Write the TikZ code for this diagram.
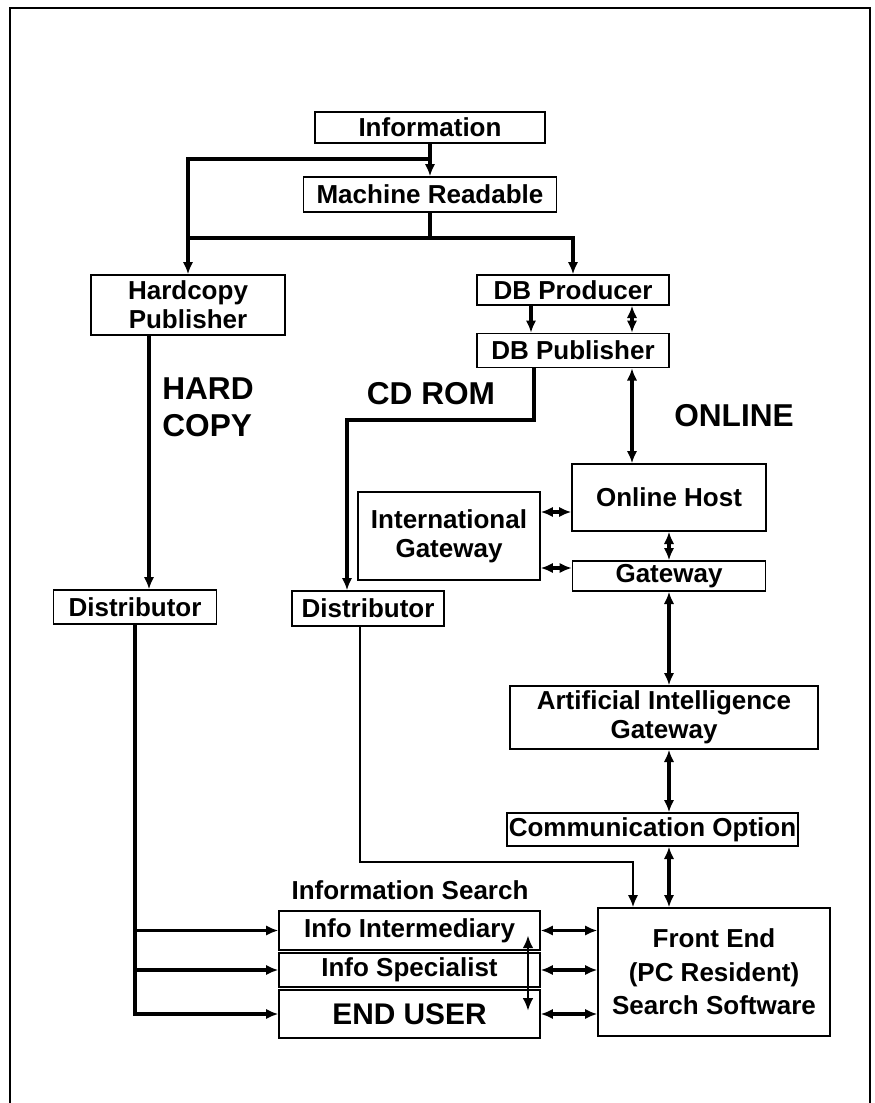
\documentclass[tikz,border=0pt]{standalone}
\usepackage{fontspec}
\setmainfont{Liberation Sans}
\usetikzlibrary{arrows.meta, calc}

\begin{document}
\begin{tikzpicture}[
  x=0.02cm, y=-0.02cm,
  box/.style={draw, line width=0.8pt, inner sep=0pt, align=center,
  font=\fontsize{14.8}{16.5}\selectfont\bfseries},
  biglbl/.style={inner sep=0pt, align=left, font=\fontsize{18}{21}\selectfont\bfseries},
  conn/.style={line width=2pt},
  arr/.style={conn, -{Latex[length=7pt, width=6pt]}},
  darr/.style={conn, {Latex[length=7pt, width=6pt]}-{Latex[length=7pt, width=6pt]}}
]
\useasboundingbox (0,0) rectangle (875,1103);
\draw[line width=0.8pt] (10,1103) -- (10,8) -- (870,8) -- (870,1103);

\node[box, minimum width=4.6cm,  minimum height=0.62cm] (info)   at (430,127.5) {Information};
\node[box, minimum width=5.06cm, minimum height=0.7cm]  (mread)  at (430,194.5) {Machine Readable};
\node[box, minimum width=3.88cm, minimum height=1.2cm]  (hcpub)  at (188,305)   {Hardcopy\\Publisher};
\node[box, minimum width=3.84cm, minimum height=0.6cm]  (dbprod) at (573,290)   {DB Producer};
\node[box, minimum width=3.84cm, minimum height=0.68cm] (dbpub)  at (573,350.5) {DB Publisher};
\node[box, minimum width=3.88cm, minimum height=1.34cm] (host)   at (669,497.5) {Online Host};
\node[box, minimum width=3.64cm, minimum height=1.76cm] (intgw)  at (449,536)   {International\\Gateway};
\node[box, minimum width=3.86cm, minimum height=0.6cm]  (gw)     at (669,576)   {Gateway};
\node[box, minimum width=3.26cm, minimum height=0.68cm] (dist1)  at (135,607)   {Distributor};
\node[box, minimum width=3.04cm, minimum height=0.7cm]  (dist2)  at (368,608.5) {Distributor};
\node[box, minimum width=6.16cm, minimum height=1.26cm] (aigw)   at (664,717.5) {Artificial Intelligence\\Gateway};
\node[box, minimum width=5.82cm, minimum height=0.66cm] (comm)   at (652.5,829.5) {Communication Option};
\node[box, minimum width=4.64cm, minimum height=2.56cm, font=\fontsize{14.8}{19}\selectfont\bfseries] (front) at (714,972) {Front End\\(PC Resident)\\Search Software};
\node[box, minimum width=5.22cm, minimum height=0.78cm] (inter)  at (409.5,930.5) {Info Intermediary};
\node[box, minimum width=5.22cm, minimum height=0.68cm] (spec)   at (409.5,970)   {Info Specialist};
\node[box, minimum width=5.22cm, minimum height=0.96cm, font=\fontsize{17}{20}\selectfont\bfseries] (enduser) at (409.5,1014) {END USER};

\node[biglbl] (hardlbl) at (208,407) {HARD\\COPY};
\node[biglbl] (cdlbl)   at (431,394) {CD ROM};
\node[biglbl] (onlbl)   at (734,416) {ONLINE};
\node[box, draw=none] (srchlbl) at (410,890) {Information Search};

\coordinate (tap) at (430,159);
\coordinate (bus) at (188,238);
\coordinate (hcx) at (149,0);
\coordinate (c1) at (531,0);
\coordinate (c2) at (632,0);
\coordinate (c3) at (534,0);
\coordinate (cdbend) at (347,420);
\coordinate (r1) at (0,512);
\coordinate (r2) at (0,568);
\coordinate (d2x) at (360,0);
\coordinate (lowbend) at (633,862);
\coordinate (ix) at (528,0);

% top of the tree
\draw[arr] (info) -- (mread);
\draw[arr] (tap) -| (hcpub.north);
\draw[conn] (mread.south) -- (mread.south |- bus) -- (bus);
\draw[arr] (bus) -| (dbprod.north);

% hard copy and cd rom
\draw[arr] (hcpub.south -| hcx) -- (dist1.north -| hcx);
\draw[arr] (dbprod.south -| c1) -- (dbpub.north -| c1);
\draw[arr] (dbpub.south -| c3) |- (cdbend) -- (cdbend |- dist2.north);

% online side
\draw[darr] (dbprod.south -| c2) -- (dbpub.north -| c2);
\draw[darr] (dbpub.south -| c2) -- (host.north -| c2);
\draw[darr] (intgw.east |- r1) -- (host.west |- r1);
\draw[darr] (intgw.east |- r2) -- (gw.west |- r2);
\draw[darr] (host) -- (gw);
\draw[darr] (gw.south) -- (gw.south |- aigw.north);
\draw[darr] (aigw.south -| gw.south) -- (comm.north -| gw.south);
\draw[darr] (comm.south -| gw.south) -- (front.north -| gw.south);

% to the searchers
\draw[arr, line width=1.4pt] (dist2.south -| d2x) |- (lowbend) -- (lowbend |- front.north);
\draw[arr] (dist1.south) |- (enduser.west);
\draw[arr] (dist1.south |- inter.west) -- (inter.west);
\draw[arr] (dist1.south |- spec.west) -- (spec.west);
\draw[darr, line width=1pt] ([yshift=-3pt]inter.center -| ix) -- ([yshift=2pt]enduser.center -| ix);
\draw[darr] (inter.east) -- (inter.east -| front.west);
\draw[darr] (spec.east) -- (spec.east -| front.west);
\draw[darr] (enduser.east) -- (enduser.east -| front.west);
\end{tikzpicture}
\end{document}
